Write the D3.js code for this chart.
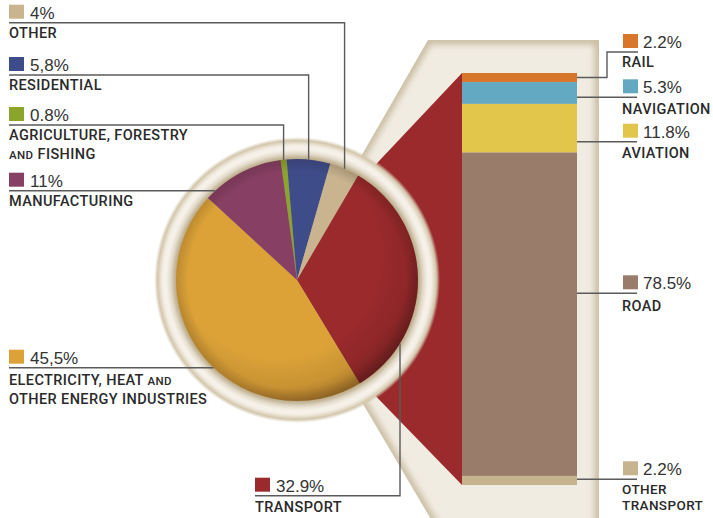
<!DOCTYPE html>
<html>
<head>
<meta charset="utf-8">
<script src="https://cdn.jsdelivr.net/npm/d3@7"></script>
<style>
  html, body { margin: 0; padding: 0; background: #ffffff; }
  svg { display: block; }
</style>
</head>
<body>
<div id="chart"></div>
<script>
// ---------------- DATA ----------------
const pieCategories = ["AGRICULTURE, FORESTRY AND FISHING", "RESIDENTIAL", "OTHER", "TRANSPORT",
                       "ELECTRICITY, HEAT AND OTHER ENERGY INDUSTRIES", "MANUFACTURING"];
const pieValues = [0.8, 5.8, 4, 32.9, 45.5, 11];
const pieValueLabels = ["0.8%", "5,8%", "4%", "32.9%", "45,5%", "11%"];
const pieColors = ["#8ba42b", "#3f4c8a", "#c9b48f", "#9b2a2c", "#dca238", "#873f63"];

const transportCategories = ["RAIL", "NAVIGATION", "AVIATION", "ROAD", "OTHER TRANSPORT"];
const transportValues = [2.2, 5.3, 11.8, 78.5, 2.2];
const transportValueLabels = ["2.2%", "5.3%", "11.8%", "78.5%", "2.2%"];
const transportColors = ["#d8762b", "#63a9c2", "#e2c64b", "#997c6a", "#c6b48f"];

// ---------------- LAYOUT ----------------
const W = 713, H = 518;
const cx = 297, cy = 280, R = 121;
const startDeg = -7.8;
const barX0 = 462, barX1 = 577, barTop = 73, barBottom = 485;

const leftLayout = {
  "OTHER":        { lineY: 22.7, lines: [["OTHER"]], base: [38], leader: "down" },
  "RESIDENTIAL":  { lineY: 75,   lines: [["RESIDENTIAL"]], base: [90], leader: "down" },
  "AGRICULTURE, FORESTRY AND FISHING": { lineY: 125, lines: [["AGRICULTURE, FORESTRY"], ["AND", " FISHING"]], base: [140, 159], leader: "down" },
  "MANUFACTURING": { lineY: 190.7, lines: [["MANUFACTURING"]], base: [206], leader: "flat" },
  "ELECTRICITY, HEAT AND OTHER ENERGY INDUSTRIES": { lineY: 367.7, lines: [["ELECTRICITY, HEAT ", "AND"], ["OTHER ENERGY INDUSTRIES"]], base: [385, 404], leader: "flat" },
  "TRANSPORT":    { lineY: 495.7, x: 255, lines: [["TRANSPORT"]], base: [512], leader: "up", upX: 400 }
};
const rightLayout = {
  "RAIL":            { lineY: 52,    base: [67], elbowX: 607 },
  "NAVIGATION":      { lineY: 97.3,  base: [114] },
  "AVIATION":        { lineY: 141.7, base: [158] },
  "ROAD":            { lineY: 293.3, base: [311] },
  "OTHER TRANSPORT": { lineY: 479.3, base: [493.5, 509.5], lines: ["OTHER", "TRANSPORT"], fs: 13.5 }
};

const svg = d3.select("#chart").append("svg").attr("width", W).attr("height", H);
const defs = svg.append("defs");

// ---------- defs ----------
const blur = defs.append("filter").attr("id", "blur").attr("x", "-20%").attr("y", "-20%").attr("width", "140%").attr("height", "140%");
blur.append("feGaussianBlur").attr("stdDeviation", 3.2);

const ringG = defs.append("radialGradient").attr("id", "ringGrad")
  .attr("gradientUnits", "userSpaceOnUse").attr("cx", cx).attr("cy", cy).attr("r", 143);
[[0.84, "#b6a685"], [0.86, "#c7b99c"], [0.885, "#e3dbcb"], [0.915, "#f6f2ea"], [0.94, "#f4efe6"],
 [0.96, "#e3d9c6"], [0.975, "#d3c6ac"], [1.0, "rgba(215,205,182,0)"]]
  .forEach(([o, c]) => ringG.append("stop").attr("offset", o).attr("stop-color", c));

const shade = defs.append("radialGradient").attr("id", "pieShade")
  .attr("cx", 0.42).attr("cy", 0.4).attr("r", 0.64);
[[0, "rgba(0,0,0,0)"], [0.66, "rgba(0,0,0,0)"], [0.85, "rgba(30,10,10,0.1)"], [1, "rgba(30,10,10,0.38)"]]
  .forEach(([o, c]) => shade.append("stop").attr("offset", o).attr("stop-color", c));

const rim = defs.append("radialGradient").attr("id", "rimShade")
  .attr("gradientUnits", "userSpaceOnUse").attr("cx", 0).attr("cy", 0).attr("r", R);
[[0, "rgba(0,0,0,0)"], [0.9, "rgba(0,0,0,0)"], [1, "rgba(40,20,10,0.16)"]]
  .forEach(([o, c]) => rim.append("stop").attr("offset", o).attr("stop-color", c));

// ---------- side panel ----------
const apex = [cx - 7, cy];
const panelPts = [apex, [428, 40], [599, 40], [599, 560], [455, 560]];
defs.append("clipPath").attr("id", "panelClip").append("polygon")
  .attr("points", panelPts.map(p => p.join(",")).join(" "));
const panel = svg.append("g").attr("clip-path", "url(#panelClip)");
panel.append("rect").attr("x", 0).attr("y", 0).attr("width", W).attr("height", H).attr("fill", "#f1ece2");
panel.append("polygon").attr("points", panelPts.map(p => p.join(",")).join(" "))
  .attr("fill", "none").attr("stroke", "#c9bca1").attr("stroke-width", 9).attr("filter", "url(#blur)");

// ---------- stacked bar (transport breakdown) ----------
const yBar = d3.scaleLinear().domain([0, d3.sum(transportValues)]).range([barTop, barBottom]);
let acc = 0;
const stackData = transportValues.map((v, i) => {
  const d = { i, cat: transportCategories[i], v, y0: acc, y1: acc + v };
  acc += v; return d;
});

const wedgeApex = [cx - 32, cy + 2];
svg.append("polygon")
  .attr("points", [wedgeApex, [barX0, yBar(0)], [barX0, yBar(d3.sum(transportValues))]].map(p => p.join(",")).join(" "))
  .attr("fill", pieColors[3]);

svg.append("g").selectAll("rect").data(stackData).join("rect")
  .attr("x", barX0).attr("width", barX1 - barX0)
  .attr("y", d => yBar(d.y0)).attr("height", d => yBar(d.y1) - yBar(d.y0))
  .attr("fill", d => transportColors[d.i]);

// ---------- ring ----------
svg.append("circle").attr("cx", cx).attr("cy", cy).attr("r", 143).attr("fill", "url(#ringGrad)");

// ---------- pie ----------
const a0 = startDeg * Math.PI / 180;
const pie = d3.pie().sort(null).startAngle(a0).endAngle(a0 + 2 * Math.PI);
const arcs = pie(pieValues);
const arc = d3.arc().innerRadius(0).outerRadius(R);
const pg = svg.append("g").attr("transform", `translate(${cx},${cy})`);
pg.selectAll("path").data(arcs).join("path").attr("d", arc).attr("fill", (d, i) => pieColors[i]);
pg.append("circle").attr("r", R).attr("fill", "url(#pieShade)");
pg.append("circle").attr("r", R).attr("fill", "url(#rimShade)");

// ---------- leaders & labels ----------
const lineColor = "#5b5b5b";
const lw = 1.4;
const labelFont = "Roboto, 'Liberation Sans', Arial, sans-serif";
const pctFont = "'Liberation Sans', Arial, sans-serif";
const ink = "#2a2a2a";
const LFS = 14.5, LLS = 0.4;
const lines = svg.append("g").attr("fill", "none").attr("stroke", lineColor).attr("stroke-width", lw);
const texts = svg.append("g");

function edgeY(x, up) { const dx = x - cx; const dy = Math.sqrt(Math.max(0, R * R - dx * dx)); return up ? cy + dy : cy - dy; }
function edgeX(y) { const dy = y - cy; return cx - Math.sqrt(Math.max(0, R * R - dy * dy)); }

function writeLines(x, base, parts, fs) {
  const size = fs || LFS;
  const t = texts.append("text").attr("x", x).attr("y", base[0])
    .attr("font-family", labelFont).attr("font-weight", 500).attr("font-size", size)
    .attr("letter-spacing", LLS).attr("fill", ink);
  parts.forEach((segs, li) => {
    segs.forEach((s, si) => {
      const sp = t.append("tspan").attr("font-size", s === "AND" ? 11.5 : size).text(s);
      if (si === 0) sp.attr("x", x).attr("y", base[li]);
    });
  });
}

pieCategories.forEach((cat, i) => {
  const L = leftLayout[cat];
  const x0 = L.x !== undefined ? L.x : 9;
  const mid = (arcs[i].startAngle + arcs[i].endAngle) / 2;
  let path;
  if (L.leader === "down") {
    const ax = cx + R * Math.sin(mid);
    path = [[x0, L.lineY], [ax, L.lineY], [ax, edgeY(ax, false)]];
  } else if (L.leader === "flat") {
    path = [[x0, L.lineY], [edgeX(L.lineY), L.lineY]];
  } else {
    path = [[x0, L.lineY], [L.upX, L.lineY], [L.upX, edgeY(L.upX, true)]];
  }
  lines.append("path").attr("d", d3.line()(path));
  texts.append("rect").attr("x", x0).attr("y", L.lineY - 18).attr("width", 15).attr("height", 14).attr("fill", pieColors[i]);
  texts.append("text").attr("x", x0 + 21).attr("y", L.lineY - 4)
    .attr("font-family", pctFont).attr("font-size", 17).attr("fill", "#333").text(pieValueLabels[i]);
  writeLines(x0, L.base, L.lines);
});

const rx = 623, lineEnd = 637;
stackData.forEach(d => {
  const L = rightLayout[d.cat];
  let path;
  if (L.elbowX) {
    const ym = yBar((d.y0 + d.y1) / 2);
    path = [[barX1, ym], [L.elbowX, ym], [L.elbowX, L.lineY], [lineEnd + 1, L.lineY]];
  } else {
    path = [[barX1, L.lineY], [lineEnd, L.lineY]];
  }
  lines.append("path").attr("d", d3.line()(path));
  texts.append("rect").attr("x", rx).attr("y", L.lineY - 18).attr("width", 15).attr("height", 14).attr("fill", transportColors[d.i]);
  texts.append("text").attr("x", rx + 20).attr("y", L.lineY - 4)
    .attr("font-family", pctFont).attr("font-size", 17).attr("fill", "#333").text(transportValueLabels[d.i]);
  const ls = L.lines || [d.cat];
  writeLines(rx - 1, L.base, ls.map(s => [s]), L.fs);
});
</script>
</body>
</html>
